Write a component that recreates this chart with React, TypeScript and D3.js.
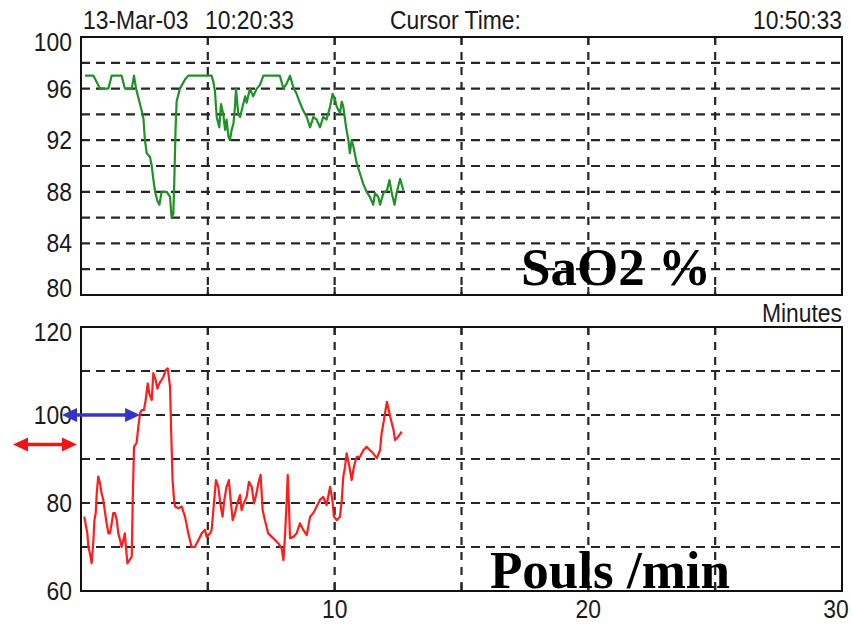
import React from 'react';
import * as d3 from 'd3';

// header texts
const headerLeft = ['13-Mar-03', '10:20:33'];
const headerMid = 'Cursor Time:';
const headerRight = '10:50:33';

// x axis (minutes)
const xGrid = [5, 10, 15, 20, 25];
const xLabels = [10, 20, 30];

// SaO2 panel
const satGrid = [82, 84, 86, 88, 90, 92, 94, 96, 98];
const satLabels = [80, 84, 88, 92, 96, 100];
const satMinutes = [
  0.16, 0.49, 0.75, 1.08, 1.21, 1.6, 1.73, 2.0, 2.09, 2.17,
  2.26, 2.39, 2.46, 2.52, 2.59, 2.72, 2.79, 2.85, 2.92, 3.01,
  3.09, 3.18, 3.38, 3.51, 3.57, 3.64, 3.68, 3.73, 3.77, 3.9,
  4.1, 4.23, 5.02, 5.15, 5.22, 5.28, 5.35, 5.45, 5.52, 5.61,
  5.68, 5.74, 5.81, 5.87, 5.94, 6.01, 6.07, 6.11, 6.2, 6.27,
  6.37, 6.47, 6.53, 6.66, 6.79, 6.93, 7.06, 7.19, 7.84, 7.98,
  8.11, 8.24, 8.37, 8.5, 8.63, 8.76, 8.9, 9.03, 9.16, 9.29,
  9.42, 9.55, 9.68, 9.82, 9.92, 10.01, 10.08, 10.21, 10.28, 10.34,
  10.45, 10.54, 10.6, 10.67, 10.74, 10.87, 11.0, 11.13, 11.26, 11.39,
  11.52, 11.59, 11.72, 11.79, 11.92, 12.06, 12.16, 12.25, 12.36, 12.44,
  12.58, 12.71,
];
const satValues = [
  97, 97, 96, 96, 97, 97, 96, 96, 97, 96,
  95.3, 94.3, 93.7, 92, 91, 90.7, 90, 89, 88, 87.3,
  87, 88, 88, 87.6, 86, 86.3, 89, 93, 95, 96,
  96.7, 97, 97, 97, 96.5, 95.8, 93.8, 93, 94.8, 94,
  92.8, 93.6, 92.3, 92, 92.8, 93.3, 94.6, 96, 94, 93.8,
  94.6, 95.4, 94.9, 96, 95.4, 96, 96.3, 97, 97, 96,
  96.4, 97, 96.1, 95.6, 94.9, 94.3, 93.8, 93, 93.8, 93.6,
  93, 93.8, 93.6, 94.6, 95.6, 95.2, 94.6, 94.1, 95, 94.6,
  93, 92, 91, 92, 91.5, 90.2, 89.4, 88.6, 88, 87.6,
  87, 87.9, 87.6, 87, 87.9, 88.1, 88.9, 87.9, 87, 87.9,
  89, 88.1,
];

// pulse panel
const pulseGrid = [70, 80, 90, 100, 110];
const pulseLabels = [60, 80, 100, 120];
const pulseMinutes = [
  0.13, 0.2, 0.25, 0.29, 0.35, 0.42, 0.49, 0.53, 0.58, 0.62,
  0.68, 0.75, 0.81, 0.88, 0.95, 1.01, 1.08, 1.14, 1.21, 1.27,
  1.34, 1.41, 1.47, 1.54, 1.6, 1.67, 1.73, 1.77, 1.83, 1.91,
  2.0, 2.04, 2.09, 2.19, 2.26, 2.33, 2.39, 2.48, 2.55, 2.63,
  2.69, 2.79, 2.85, 2.94, 3.01, 3.09, 3.18, 3.25, 3.34, 3.42,
  3.51, 3.55, 3.61, 3.67, 3.71, 3.84, 3.97, 4.1, 4.23, 4.36,
  4.49, 4.63, 4.76, 4.89, 4.95, 5.09, 5.15, 5.24, 5.32, 5.41,
  5.51, 5.58, 5.65, 5.74, 5.83, 5.9, 5.98, 6.07, 6.16, 6.27,
  6.33, 6.42, 6.53, 6.62, 6.73, 6.82, 6.92, 6.99, 7.08, 7.16,
  7.25, 7.38, 7.52, 7.65, 7.78, 7.91, 7.98, 8.04, 8.11, 8.15,
  8.19, 8.24, 8.37, 8.5, 8.63, 8.76, 8.9, 9.03, 9.16, 9.29,
  9.42, 9.55, 9.68, 9.82, 9.91, 9.97, 10.08, 10.21, 10.28, 10.34,
  10.41, 10.47, 10.58, 10.67, 10.76, 10.87, 11.0, 11.13, 11.26, 11.39,
  11.52, 11.66, 11.79, 11.85, 11.92, 12.06, 12.19, 12.32, 12.38, 12.51,
  12.64,
];
const pulseValues = [
  76.9, 74.6, 73.1, 70, 68.6, 66.3, 71.6, 76.1, 77.7, 82.2,
  86, 84.5, 82.2, 80.7, 77.7, 75.4, 73.1, 73.1, 75.4, 77.7,
  77.7, 76.1, 73.1, 71.6, 70, 71.6, 73.1, 70, 66.3, 67,
  67.8, 80.7, 92.8, 93.6, 97.3, 100.4, 101.1, 101.1, 103.4, 107.2,
  104.9, 103.4, 109.5, 108, 106, 107.2, 108, 108.7, 110.2, 110.6,
  106.4, 97.3, 85.2, 80.7, 79.2, 78.8, 79.2, 76.9, 73.1, 70,
  70, 71.6, 73.1, 73.9, 72.3, 73.1, 73.9, 79.9, 85.2, 83.7,
  79.2, 76.9, 80.7, 83.7, 85.2, 80.7, 76.1, 77.7, 79.9, 81.8,
  78.4, 79.9, 81.4, 84.8, 83.7, 79.9, 82.2, 84.5, 86.4, 78.4,
  76.1, 73.1, 72.3, 71.6, 70.8, 69.7, 67, 72.3, 80.7, 86.4,
  80.7, 72, 72.3, 73.1, 75.4, 73.9, 72.7, 76.9, 77.7, 79.2,
  80.7, 81.4, 79.5, 83.7, 80.7, 76.9, 76.1, 76.9, 80.7, 86,
  88.3, 91.3, 88.3, 85.2, 88.3, 90.5, 90.5, 92, 92.8, 92,
  91.3, 90.2, 92, 95.8, 98.1, 103, 99.6, 96.6, 94.3, 95.1,
  96.2,
];

// annotation arrows: [from minute, to minute, pulse value]
const blueArrow = [-0.75, 2.33, 100];
const redArrow = [-2.68, -0.16, 93.3];

const W = 853;
const H = 625;
const left = 81;
const right = 842;
const satTop = 37;
const satBottom = 295;
const pulseTop = 327;
const pulseBottom = 591;

const font = '"Liberation Sans", Arial, sans-serif';
const gridColor = '#262626';

const Label = ({ x, y, anchor = 'start', children }) => (
  <g transform={`translate(${x},${y}) scale(0.88,1)`}>
    <text textAnchor={anchor} fontFamily={font} fontSize={26} fill="#1a1a1a">
      {children}
    </text>
  </g>
);

const Arrow = ({ x1, x2, y, color }) => {
  const hl = 15;
  const hw = 7;
  return (
    <g fill={color} stroke={color}>
      <line x1={x1 + hl - 1} x2={x2 - hl + 1} y1={y} y2={y} strokeWidth={3.5} />
      <path d={`M${x1},${y}L${x1 + hl},${y - hw}L${x1 + hl},${y + hw}Z`} stroke="none" />
      <path d={`M${x2},${y}L${x2 - hl},${y - hw}L${x2 - hl},${y + hw}Z`} stroke="none" />
    </g>
  );
};

const Panel = ({ y, top, bottom, grid, labels, minutes, values, color, isTop }) => {
  const x = d3.scaleLinear().domain([0, 30]).range([left, right]);
  const line = d3
    .line<number>()
    .x((d, i) => x(minutes[i]))
    .y(d => y(d));
  const [min, max] = y.domain();
  return (
    <g>
      {grid.map(v => (
        <line key={'h' + v} x1={left} x2={right} y1={y(v)} y2={y(v)}
          stroke={gridColor} strokeWidth={2.2} strokeDasharray="9,6" />
      ))}
      {xGrid.map(v => (
        <g key={'v' + v}>
          <line x1={x(v)} x2={x(v)} y1={top} y2={bottom}
            stroke={gridColor} strokeWidth={2.2} strokeDasharray="8,7" />
          <line x1={x(v)} x2={x(v)} y1={top} y2={top + 8} stroke={gridColor} strokeWidth={2} />
          <line x1={x(v)} x2={x(v)} y1={bottom - 8} y2={bottom} stroke={gridColor} strokeWidth={2} />
        </g>
      ))}
      <path d={line(values) || ''} fill="none" stroke={color} strokeWidth={2.2} strokeLinejoin="round" />
      <rect x={left} y={top} width={right - left} height={bottom - top}
        fill="none" stroke="#111" strokeWidth={2} />
      {labels.map(v => {
        let off = 9;
        if (v === max) off = 14;
        else if (v === min && isTop) off = 2;
        return (
          <Label key={'l' + v} x={72} y={y(v) + off} anchor="end">{v}</Label>
        );
      })}
    </g>
  );
};

export default function App() {
  const x = d3.scaleLinear().domain([0, 30]).range([left, right]);
  const ySat = d3.scaleLinear().domain([80, 100]).range([satBottom, satTop]);
  const yPulse = d3.scaleLinear().domain([60, 120]).range([pulseBottom, pulseTop]);

  return (
    <svg width={W} height={H} style={{ position: 'absolute', left: 0, top: 0, background: '#fff' }}>
      <rect width={W} height={H} fill="#fff" />
      <Label x={83} y={29}>{headerLeft[0]}</Label>
      <Label x={205} y={29}>{headerLeft[1]}</Label>
      <Label x={390} y={29}>{headerMid}</Label>
      <Label x={842} y={29} anchor="end">{headerRight}</Label>

      <Panel y={ySat} top={satTop} bottom={satBottom} grid={satGrid} labels={satLabels}
        minutes={satMinutes} values={satValues} color="#1f9126" isTop />

      <Label x={842} y={322} anchor="end">Minutes</Label>

      <Panel y={yPulse} top={pulseTop} bottom={pulseBottom} grid={pulseGrid} labels={pulseLabels}
        minutes={pulseMinutes} values={pulseValues} color="#ff1c1c" isTop={false} />

      {xLabels.map(v => (
        <Label key={v} x={Math.min(x(v), 836)} y={618} anchor="middle">{v}</Label>
      ))}

      <Arrow x1={x(blueArrow[0])} x2={x(blueArrow[1])} y={yPulse(blueArrow[2])} color="#3434c8" />
      <Arrow x1={x(redArrow[0])} x2={x(redArrow[1])} y={yPulse(redArrow[2])} color="#f01414" />

      <text x={521} y={285} fontFamily='"Liberation Serif", "Times New Roman", serif'
        fontWeight="bold" fontSize={53} fill="#000">SaO2 %</text>
      <text x={490} y={588} fontFamily='"Liberation Serif", "Times New Roman", serif'
        fontWeight="bold" fontSize={53} fill="#000">Pouls /min</text>
    </svg>
  );
}
